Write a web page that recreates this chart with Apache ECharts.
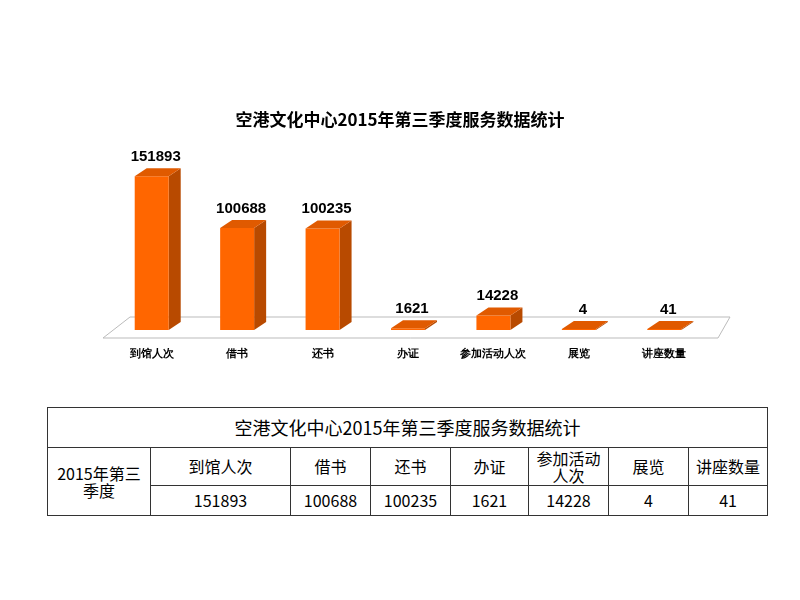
<!DOCTYPE html>
<html lang="zh">
<head>
<meta charset="UTF-8">
<title>空港文化中心2015年第三季度服务数据统计</title>
<script src="https://cdn.jsdelivr.net/npm/echarts@6/dist/echarts.min.js"></script>
<style>
  body { margin: 0; background: #fff; font-family: "Noto Sans CJK SC", sans-serif; }
  #main { position: absolute; left: 0; top: 0; width: 800px; height: 380px; }
  table { position: absolute; left: 47px; top: 407px; width: 720px; table-layout: fixed; border-collapse: collapse; font-size: 16px; }
  td { border: 1px solid #333; text-align: center; padding: 0; line-height: 17px; }
</style>
</head>
<body>
<div id="main"></div>
<table id="tbl"></table>
<script>
  var title = '空港文化中心2015年第三季度服务数据统计';
  var categories = ['到馆人次', '借书', '还书', '办证', '参加活动人次', '展览', '讲座数量'];
  var values = [151893, 100688, 100235, 1621, 14228, 4, 41];
  var rowLabel = '2015年第三季度';

  // table below the chart
  var colW = [103, 140, 80, 80, 78, 80, 80, 79];
  var tbl = document.getElementById('tbl');
  var html = '<colgroup>' + colW.map(function (w) { return '<col style="width:' + w + 'px">'; }).join('') + '</colgroup>';
  html += '<tr style="height:40px"><td colspan="8" style="font-size:18px">' + title + '</td></tr>';
  html += '<tr style="height:38px"><td rowspan="2">2015年第三<br>季度</td>';
  categories.forEach(function (c) {
    var t = c === '参加活动人次' ? '参加活动<br>人次' : c;
    html += '<td>' + t + '</td>';
  });
  html += '</tr><tr style="height:30px">';
  values.forEach(function (v) { html += '<td>' + v + '</td>'; });
  html += '</tr>';
  tbl.innerHTML = html;

  var myChart = echarts.init(document.getElementById('main'));
  var dx = 12, dy = -8, half = 17;

  var option = {
    title: {
      text: title, left: 'center', top: 106,
      textStyle: { fontSize: 17, fontWeight: 'bold', color: '#000', fontFamily: 'Noto Sans CJK SC' }
    },
    grid: { left: 109, right: 93, top: 172, bottom: 46 },
    xAxis: {
      type: 'category', data: categories,
      axisLine: { show: false }, axisTick: { show: false },
      axisLabel: { interval: 0, margin: 14, fontSize: 11, fontWeight: 'bold', color: '#000' }
    },
    yAxis: { type: 'value', min: 0, max: 160000, show: false },
    graphic: [{
      type: 'polygon', z: 0,
      shape: { points: [[103, 338], [718, 338], [730, 317], [130, 317]] },
      style: { fill: '#fff', stroke: '#bbb', lineWidth: 1 }
    }],
    series: [{
      type: 'custom',
      data: values,
      renderItem: function (params, api) {
        var i = api.value(0), v = api.value(1);
        var base = api.coord([i, 0]);
        var top = api.coord([i, v]);
        var x0 = base[0] - half, x1 = base[0] + half, yb = base[1] - 4, yt = Math.min(top[1] - 4, yb - 1);
        return {
          type: 'group',
          children: [
            { type: 'polygon', shape: { points: [[x1, yb], [x1 + dx, yb + dy], [x1 + dx, yt + dy], [x1, yt]] },
              style: { fill: '#B84A00' } },
            { type: 'rect', shape: { x: x0, y: yt, width: half * 2, height: yb - yt },
              style: { fill: '#FF6600' } },
            { type: 'polygon', shape: { points: [[x0, yt], [x1, yt], [x1 + dx, yt + dy], [x0 + dx, yt + dy]] },
              style: { fill: '#E05A00' } },
            { type: 'text', style: { text: String(v), x: base[0] + 4, y: yt + dy - 4,
              align: 'center', verticalAlign: 'bottom', fontSize: 15, fontWeight: 'bold', fill: '#000' } }
          ]
        };
      }
    }]
  };
  myChart.setOption(option);
</script>
</body>
</html>
